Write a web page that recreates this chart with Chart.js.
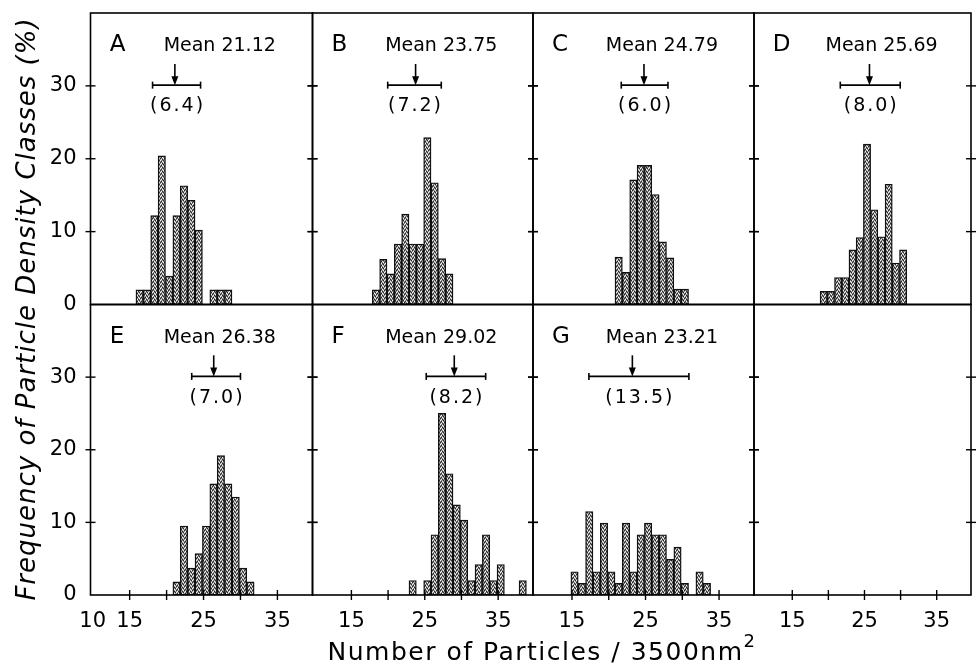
<!DOCTYPE html>
<html><head><meta charset="utf-8">
<script src="https://cdn.jsdelivr.net/npm/chart.js@4.4.1/dist/chart.umd.min.js"></script>
<style>
html,body{margin:0;padding:0;background:#fff;}
#wrap{position:relative;width:977px;height:668px;overflow:hidden;background:#fff;}
#wrap canvas{position:absolute;left:0;top:0;}
</style></head><body><div id="wrap"></div>
<script>
// ---------- data ----------
const PANEL_LETTERS = ['A', 'B', 'C', 'D', 'E', 'F', 'G'];
const MEAN_VALUES   = [21.12, 23.75, 24.79, 25.69, 26.38, 29.02, 23.21];
const SPREAD_VALUES = [6.4, 7.2, 6.0, 8.0, 7.0, 8.2, 13.5];
const SPREAD_LO     = [18.1, 19.95, 21.7, 21.65, 23.4, 25.2, 17.3];
const SPREAD_HI     = [24.6, 27.25, 28.05, 29.95, 30.0, 33.3, 30.9];

const BINS_A = [16, 17, 18, 19, 20, 21, 22, 23, 24, 26, 27, 28];
const FREQ_A = [2.0, 2.0, 12.2, 20.4, 3.9, 12.2, 16.3, 14.3, 10.2, 2.0, 2.0, 2.0];
const BINS_B = [18, 19, 20, 21, 22, 23, 24, 25, 26, 27, 28];
const FREQ_B = [2.0, 6.2, 4.2, 8.3, 12.4, 8.3, 8.3, 22.9, 16.7, 6.3, 4.2];
const BINS_C = [21, 22, 23, 24, 25, 26, 27, 28, 29, 30];
const FREQ_C = [6.5, 4.4, 17.1, 19.1, 19.1, 15.1, 8.6, 6.4, 2.1, 2.1];
const BINS_D = [19, 20, 21, 22, 23, 24, 25, 26, 27, 28, 29, 30];
const FREQ_D = [1.8, 1.8, 3.7, 3.7, 7.5, 9.2, 22.0, 13.0, 9.3, 16.5, 5.7, 7.5];
const BINS_E = [21, 22, 23, 24, 25, 26, 27, 28, 29, 30, 31];
const FREQ_E = [1.8, 9.5, 3.7, 5.7, 9.5, 15.3, 19.2, 15.3, 13.5, 3.7, 1.8];
const BINS_F = [23, 25, 26, 27, 28, 29, 30, 31, 32, 33, 34, 35, 38];
const FREQ_F = [2.0, 2.0, 8.3, 25.0, 16.7, 12.4, 10.3, 2.0, 4.2, 8.3, 2.0, 4.2, 2.0];
const BINS_G = [15, 16, 17, 18, 19, 20, 21, 22, 23, 24, 25, 26, 27, 28, 29, 30, 32, 33];
const FREQ_G = [3.2, 1.6, 11.5, 3.2, 9.9, 3.2, 1.6, 9.9, 3.2, 8.3, 9.9, 8.3, 8.3, 4.9, 6.6, 1.6, 3.2, 1.6];

const X_TICK_MARKS   = [15, 20, 25, 30, 35];
const X_LABELS_FIRST = [10, 15, 25, 35];
const X_LABELS       = [15, 25, 35];
const Y_TICK_MARKS   = [10, 20, 30];
const Y_LABELS       = [0, 10, 20, 30];
const X_TITLE = 'Number of Particles / 3500nm';
const X_TITLE_SUP = '2';
const Y_TITLE = 'Frequency of Particle Density Classes (%)';

const ALL_BINS = [BINS_A, BINS_B, BINS_C, BINS_D, BINS_E, BINS_F, BINS_G];
const ALL_FREQ = [FREQ_A, FREQ_B, FREQ_C, FREQ_D, FREQ_E, FREQ_F, FREQ_G];

// ---------- layout / style ----------
const W = 977, H = 668;
const COL_EDGES = [90.5, 312.5, 533, 754, 971];
const ROW_EDGES = [13, 304.5, 595];
const X_MIN = 9.7, X_MAX = 39.75, Y_MIN = 0, Y_MAX = 40;
const BIN_SHIFT = 0.35;
const Y_AXIS_W = 40, X_AXIS_H = 40;
const FONT = 'DejaVu Sans';

function makePattern() {
  const c = document.createElement('canvas');
  c.width = 4; c.height = 4;
  const g = c.getContext('2d');
  g.fillStyle = '#8e8e8e'; g.fillRect(0, 0, 4, 4);
  g.fillStyle = '#f4f4f4';
  [[0,0],[2,1],[1,3],[3,2]].forEach(([i,j]) => g.fillRect(i, j, 1, 1));
  g.fillStyle = '#262626';
  [[1,1],[3,0],[0,2],[2,3]].forEach(([i,j]) => g.fillRect(i, j, 1, 1));
  return g.createPattern(c, 'repeat');
}
const PATTERN = makePattern();

function line(ctx, x1, y1, x2, y2) {
  ctx.beginPath(); ctx.moveTo(x1, y1); ctx.lineTo(x2, y2); ctx.stroke();
}
function zeroPad(s) { s.paddingTop = 0; s.paddingBottom = 0; s.paddingLeft = 0; s.paddingRight = 0; }

const panelPlugin = {
  id: 'panel',
  afterDatasetsDraw(chart, args, o) {
    const { ctx, chartArea: a } = chart;
    const x = chart.scales.x, y = chart.scales.y;
    ctx.save();
    ctx.strokeStyle = '#000'; ctx.fillStyle = '#000';
    ctx.lineWidth = 1.6;
    ctx.strokeRect(a.left, a.top, a.right - a.left, a.bottom - a.top);
    ctx.lineWidth = 1.4;
    Y_TICK_MARKS.forEach(v => {
      const py = y.getPixelForValue(v);
      line(ctx, a.left - 5, py, a.left + 5, py);
      line(ctx, a.right - 5, py, a.right + 5, py);
    });
    if (o.xTicks) {
      X_TICK_MARKS.forEach(v => {
        const px = x.getPixelForValue(v);
        line(ctx, px, a.bottom - 5, px, a.bottom + 5);
      });
    }
    const i = o.idx;
    if (i !== undefined && i !== null) {
      const base = y.getPixelForValue(34.75);
      ctx.textBaseline = 'alphabetic';
      ctx.textAlign = 'left';
      ctx.font = '23px "' + FONT + '"';
      ctx.fillText(PANEL_LETTERS[i], x.getPixelForValue(12.3), base);
      ctx.font = '19px "' + FONT + '"';
      ctx.fillText('Mean ' + MEAN_VALUES[i].toFixed(2), x.getPixelForValue(19.6), base);
      const mx = x.getPixelForValue(MEAN_VALUES[i]);
      const by = y.getPixelForValue(30.1);
      const ty = y.getPixelForValue(33.0);
      ctx.lineWidth = 1.6;
      line(ctx, mx, ty, mx, by - 6);
      ctx.beginPath();
      ctx.moveTo(mx - 3.5, by - 9); ctx.lineTo(mx + 3.5, by - 9); ctx.lineTo(mx, by); ctx.closePath(); ctx.fill();
      const lx = x.getPixelForValue(SPREAD_LO[i]);
      const hx = x.getPixelForValue(SPREAD_HI[i]);
      line(ctx, lx, by, hx, by);
      line(ctx, lx, by - 3.5, lx, by + 3.5);
      line(ctx, hx, by - 3.5, hx, by + 3.5);
      ctx.textAlign = 'center';
      ctx.letterSpacing = '2px';
      ctx.fillText('(' + SPREAD_VALUES[i].toFixed(1) + ')', (lx + hx) / 2 + 1, y.getPixelForValue(26.5));
      ctx.letterSpacing = '0px';
    }
    if (o.titles) {
      ctx.textAlign = 'left';
      ctx.textBaseline = 'alphabetic';
      ctx.letterSpacing = '1.5px';
      ctx.font = '25px "' + FONT + '"';
      const w1 = ctx.measureText(X_TITLE).width;
      ctx.font = '18px "' + FONT + '"';
      const w2 = ctx.measureText(X_TITLE_SUP).width;
      const sx = 542 - (w1 + w2) / 2;
      ctx.font = '25px "' + FONT + '"';
      ctx.fillText(X_TITLE, sx, 660);
      ctx.font = '18px "' + FONT + '"';
      ctx.fillText(X_TITLE_SUP, sx + w1, 647);
      ctx.save();
      ctx.translate(35, 309);
      ctx.rotate(-Math.PI / 2);
      ctx.textAlign = 'center';
      ctx.letterSpacing = '1px';
      ctx.font = 'italic 26px "' + FONT + '"';
      ctx.fillText(Y_TITLE, 0, 0);
      ctx.restore();
      ctx.letterSpacing = '0px';
    }
    ctx.restore();
  }
};

const wrap = document.getElementById('wrap');
for (let p = 0; p < 8; p++) {
  const row = p < 4 ? 0 : 1, col = p % 4;
  const left = COL_EDGES[col], right = COL_EDGES[col + 1];
  const top = ROW_EDGES[row], bottom = ROW_EDGES[row + 1];
  const showY = col === 0, showX = row === 1;
  const cv = document.createElement('canvas');
  cv.width = W; cv.height = H;
  cv.style.width = W + 'px'; cv.style.height = H + 'px';
  wrap.appendChild(cv);
  const datasets = [];
  if (p < 7) {
    datasets.push({
      data: ALL_BINS[p].map((b, k) => ({ x: b + BIN_SHIFT, y: ALL_FREQ[p][k] })),
      backgroundColor: PATTERN,
      borderColor: '#111',
      borderWidth: 1.4,
      borderSkipped: false,
      barPercentage: 1,
      categoryPercentage: 1
    });
  }
  const xLabels = col === 0 ? X_LABELS_FIRST : X_LABELS;
  new Chart(cv, {
    type: 'bar',
    data: { datasets },
    plugins: [panelPlugin],
    options: {
      responsive: false,
      animation: false,
      events: [],
      devicePixelRatio: 1,
      layout: { padding: {
        left: showY ? left - Y_AXIS_W : left,
        right: W - right,
        top: top,
        bottom: showX ? H - bottom - X_AXIS_H : H - bottom
      } },
      plugins: {
        legend: { display: false },
        tooltip: { enabled: false },
        panel: { idx: p < 7 ? p : null, xTicks: showX, titles: p === 0 }
      },
      scales: {
        x: {
          type: 'linear', min: X_MIN, max: X_MAX, offset: false, display: showX,
          grid: { display: false, offset: false }, border: { display: false },
          afterBuildTicks: s => { s.ticks = xLabels.map(v => ({ value: v })); },
          afterFit: s => { s.height = showX ? X_AXIS_H : 0; zeroPad(s); },
          ticks: { autoSkip: false, maxRotation: 0, padding: 6, color: '#000',
                   font: { family: FONT, size: 21 }, callback: v => String(v) }
        },
        y: {
          type: 'linear', min: Y_MIN, max: Y_MAX, display: showY,
          grid: { display: false }, border: { display: false },
          afterBuildTicks: s => { s.ticks = Y_LABELS.map(v => ({ value: v })); },
          afterFit: s => { s.width = showY ? Y_AXIS_W : 0; zeroPad(s); },
          ticks: { autoSkip: false, padding: 6, color: '#000',
                   font: { family: FONT, size: 21 }, callback: v => String(v) }
        }
      }
    }
  });
}
</script>
</body></html>
